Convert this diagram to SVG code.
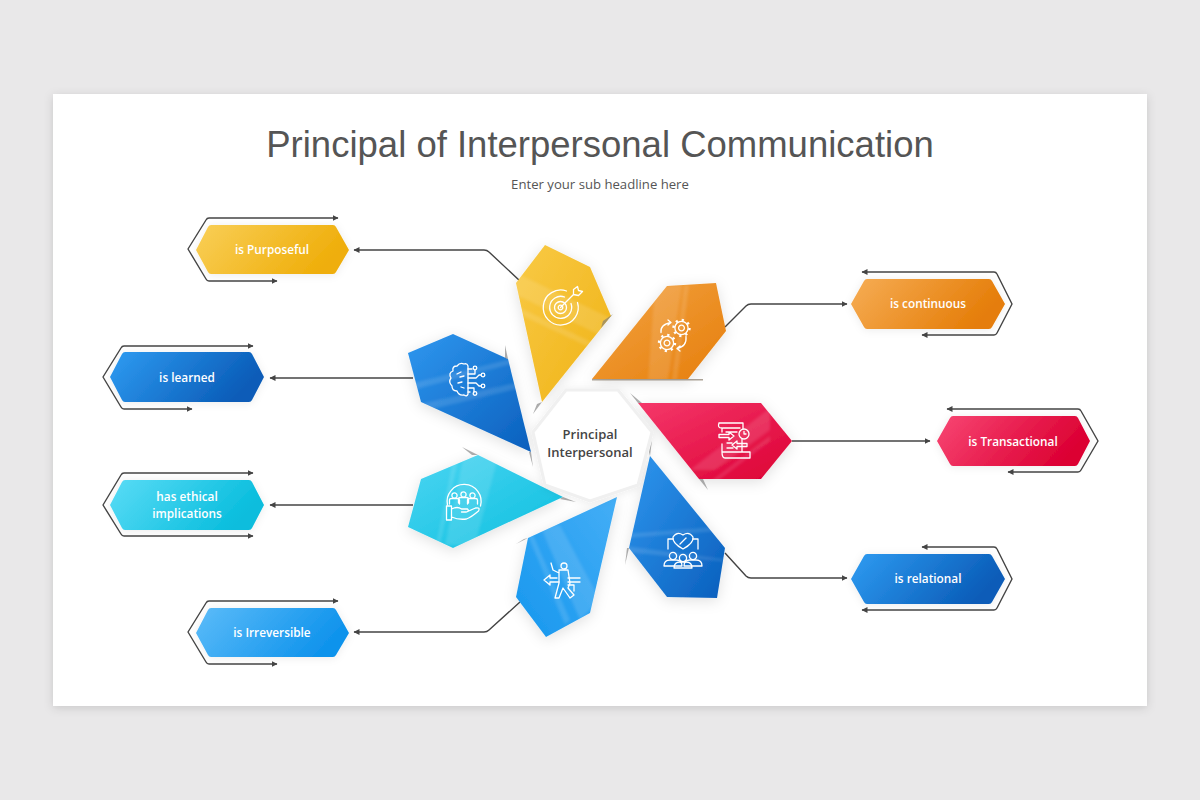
<svg xmlns="http://www.w3.org/2000/svg" xmlns:xlink="http://www.w3.org/1999/xlink" width="1200" height="800" viewBox="0 0 1200 800">
<style>
.t{font-family:"Liberation Sans",Arial,sans-serif;font-size:36.5px;fill:#555;text-anchor:middle}
.s{font-family:"Open Sans","Noto Sans",sans-serif;font-size:13.150px;fill:#555;text-anchor:middle}
.l{font-family:"Open Sans","Noto Sans",sans-serif;font-size:11.800px;font-weight:600;fill:#fff;text-anchor:middle}
.c{font-family:"Open Sans","Noto Sans",sans-serif;font-size:13px;font-weight:600;fill:#444;text-anchor:middle}
.a{fill:none;stroke:#444;stroke-width:1.4;marker-end:url(#ah);stroke-linejoin:round}
.i{fill:none;stroke:#fff;stroke-width:1.3;stroke-linecap:round;stroke-linejoin:round}
.h{fill:#fff;opacity:.12;filter:url(#b2)}
.f{fill:#777;opacity:.6;filter:url(#b1)}
.p{filter:url(#sh)}
.n{filter:url(#sl)}
</style>
<defs>
<marker id="ah" markerWidth="7" markerHeight="7" refX="5.5" refY="3" orient="auto" markerUnits="userSpaceOnUse"><path d="M0 0L6 3L0 6z" fill="#444"/></marker>
<filter id="card" x="-5%" y="-5%" width="110%" height="110%"><feDropShadow dx="0" dy="2" stdDeviation="5" flood-color="#000" flood-opacity=".14"/></filter>
<filter id="sh" x="-30%" y="-30%" width="160%" height="160%"><feDropShadow dx="0" dy="3" stdDeviation="7" flood-color="#000" flood-opacity=".12"/></filter>
<filter id="sl" x="-20%" y="-40%" width="140%" height="180%"><feDropShadow dx="0" dy="1" stdDeviation="4" flood-color="#000" flood-opacity=".08"/></filter>
<filter id="b1" x="-50%" y="-50%" width="200%" height="200%"><feGaussianBlur stdDeviation=".7"/></filter>
<filter id="b2" x="-30%" y="-30%" width="160%" height="160%"><feGaussianBlur stdDeviation="1.600"/></filter>
<linearGradient id="gY" x1="0" y1="0" x2="1" y2="1"><stop offset="0" stop-color="#f9ca45"/><stop offset="1" stop-color="#efb215"/></linearGradient>
<linearGradient id="gO" x1="0" y1="0" x2="1" y2="1"><stop offset="0" stop-color="#f3a443"/><stop offset="1" stop-color="#e67e0c"/></linearGradient>
<linearGradient id="gR" x1="0" y1="0" x2="1" y2="1"><stop offset="0" stop-color="#f5386a"/><stop offset="1" stop-color="#dc0034"/></linearGradient>
<linearGradient id="gD" x1="0" y1="0" x2="1" y2="1"><stop offset="0" stop-color="#2f97ef"/><stop offset="1" stop-color="#0a5fbd"/></linearGradient>
<linearGradient id="gS" x1="1" y1="0" x2="0" y2="1"><stop offset="0" stop-color="#44aef6"/><stop offset="1" stop-color="#1797ee"/></linearGradient>
<linearGradient id="gC" x1="0" y1="0" x2="1" y2="1"><stop offset="0" stop-color="#4bd5f2"/><stop offset="1" stop-color="#0cbfdf"/></linearGradient>
<linearGradient id="lY" x1="0" y1="0" x2="1" y2=".3"><stop offset="0" stop-color="#f9cf58"/><stop offset="1" stop-color="#efae0a"/></linearGradient>
<linearGradient id="lO" x1="0" y1="0" x2="1" y2=".3"><stop offset="0" stop-color="#f6ad55"/><stop offset="1" stop-color="#e57d08"/></linearGradient>
<linearGradient id="lR" x1="0" y1="0" x2="1" y2=".3"><stop offset="0" stop-color="#f84774"/><stop offset="1" stop-color="#dc0033"/></linearGradient>
<linearGradient id="lD" x1="0" y1="0" x2="1" y2=".3"><stop offset="0" stop-color="#2f9cf2"/><stop offset="1" stop-color="#0a5cb8"/></linearGradient>
<linearGradient id="lS" x1="0" y1="0" x2="1" y2=".3"><stop offset="0" stop-color="#5cbcf9"/><stop offset="1" stop-color="#0f93ec"/></linearGradient>
<linearGradient id="lC" x1="0" y1="0" x2="1" y2=".3"><stop offset="0" stop-color="#5adcf6"/><stop offset="1" stop-color="#08bddd"/></linearGradient>
<clipPath id="cY"><path d="M545 245L590 267L611 316L542 402L516 283z"/></clipPath>
<clipPath id="cO"><path d="M667 286L716 283L726 331L688 379L592 379z"/></clipPath>
<clipPath id="cR"><path d="M638 403L761 403L792 441L761 479L699 479z"/></clipPath>
<clipPath id="cD"><path d="M650 456L725 548L717 598L667 597L629 548z"/></clipPath>
<clipPath id="cS"><path d="M617 497L590 613L546 637L516 597L528 538z"/></clipPath>
<clipPath id="cC"><path d="M563 497L453 548L408 527L421 479L478 455z"/></clipPath>
<clipPath id="cB"><path d="M453 334L508 359L531 452L421 402L408 353z"/></clipPath>
<g id="gear"><circle r="6.6" class="i"/><circle r="2.9" class="i"/><circle r="8" fill="none" stroke="#fff" stroke-width="2.4" stroke-dasharray="2.2 4.08"/></g>
<g id="pers"><circle cx="0" cy="-4" r="3.6" class="i"/><path class="i" d="M-9 6Q-9 0 -3 0H3Q9 0 9 6z"/></g>
<g id="persm"><circle cx="0" cy="-3.500" r="2.600" class="i"/><path class="i" d="M-5 5V1Q-5 -.5 -3 -.5H3Q5 -.5 5 1V5"/></g>
</defs>

<rect width="1200" height="800" fill="#e9e8e9"/>
<rect x="53" y="94" width="1094" height="612" fill="#fff" filter="url(#card)"/>

<text class="t" x="600" y="156.500">Principal of Interpersonal Communication</text>
<text class="s" x="600" y="189">Enter your sub headline here</text>

<g id="connectors">
<path class="a" d="M520 281L489 252Q487 250 484 250L354 250"/>
<path class="a" d="M725 327L746 306Q748 304 751 304L847 304"/>
<path class="a" d="M792 441L930 441"/>
<path class="a" d="M725 553L746 576Q748 578 751 578L847 578"/>
<path class="a" d="M413 378L270 378"/>
<path class="a" d="M413 505L270 505"/>
<path class="a" d="M520 602L489 630Q487 632 484 632L354 632"/>
</g>

<g id="petal-purposeful">
<path class="p" fill="url(#gY)" d="M545 245L590 267L611 316L542 402L516 283z"/>
<g clip-path="url(#cY)"><path class="h" d="M510 270L625 325V347L510 292z"/><path class="h" d="M510 303L625 358V364L510 310z"/></g>
<path class="f" d="M613 314L601 328L603 321z"/><path class="f" d="M542 402L533 414L537 404z"/>
<g transform="translate(560.500 307.500)"><path class="i" d="M6 -16.500A17.500 17.500 0 1 0 17 -5"/><path class="i" d="M4 -10.500A11 11 0 1 0 10.500 -4"/><circle r="6" class="i"/><circle r="2.300" class="i"/><path class="i" d="M0 0L13 -13M13 -13L13 -18L17 -21L18 -17L22 -16L18 -12L13 -13"/></g>
</g>

<g id="petal-continuous">
<path class="p" fill="url(#gO)" d="M667 286L716 283L726 331L688 379L592 379z"/>
<g clip-path="url(#cO)"><path class="h" d="M655 285L682 285L668 380L648 380z"/><path class="h" d="M684 285L689 285L677 380L672 380z"/></g>
<path d="M592 379H703V380.500H592z" fill="#6b5a45" opacity=".55" filter="url(#b1)"/>
<g transform="translate(674 335.500)"><use xlink:href="#gear" href="#gear" x="7.500" y="-7.500"/><use xlink:href="#gear" href="#gear" x="-7" y="7.500"/><path class="i" d="M-13 -3Q-14 -11 -3 -13M-3 -13L-6 -15.500M-3 -13L-6 -10.500M12 1Q13 11 3 13M3 13L6 15.500M3 13L6 10.500"/></g>
</g>

<g id="petal-transactional">
<path class="p" fill="url(#gR)" d="M638 403L761 403L792 441L761 479L699 479z"/>
<g clip-path="url(#cR)"><path class="h" d="M770 408V430L715 470L690 470z"/><path class="h" d="M770 436V441L712 485L706 485z"/></g>
<path class="f" d="M630 393L638 403L642 403z"/><path class="f" d="M699 479L708 490L703 479z"/>
<g transform="translate(733 440)"><path class="i" d="M-14 -17H10V-11M-14 -17Q-16 -12 -11 -12V-8M-11 4V12M-10 -12H7M-7 -8H4M-6 3H-1M-6 8H0M-14 -5.500H-4V-8L1 -4L-4 0V-2.500H-14zM14 3.500H4V1L-1 5L4 9V6.500H14zM9 -1V12M-11 12H17V18H-8Q-11 18 -11 12"/><circle cx="11" cy="-6" r="5" class="i"/><path class="i" d="M11 -8.500V-6H13"/></g>
</g>

<g id="petal-relational">
<path class="p" fill="url(#gD)" d="M650 456L725 548L717 598L667 597L629 548z"/>
<g clip-path="url(#cD)"><path class="h" d="M625 534L730 526V530L625 538z"/><path class="h" d="M625 546L730 560V562L625 552z"/></g>
<path class="f" d="M652 440L650 456L649 452z"/><path class="f" d="M629 548L625 565L627 548z"/>
<g transform="translate(683 552)"><path class="i" d="M0 -3Q-11 -9 -10 -15Q-6 -21 0 -17Q6 -21 10 -15Q11 -9 0 -3z"/><path class="i" d="M-3 -8L3 -14"/><path class="i" d="M-15 -3V-13H-10M15 -3V-13H10"/><use xlink:href="#pers" href="#pers" x="-10" y="8"/><use xlink:href="#pers" href="#pers" x="10" y="8"/><use xlink:href="#pers" href="#pers" y="10"/></g>
</g>

<g id="petal-irreversible">
<path class="p" fill="url(#gS)" d="M617 497L590 613L546 637L516 597L528 538z"/>
<g clip-path="url(#cS)"><path class="h" d="M540 525L560 525L600 600L580 620z"/><path class="h" d="M528 535L533 535L570 620L565 625z"/></g>
<path class="f" d="M528 538L516 544L524 539z"/>
<g transform="translate(562 580)"><path class="i" d="M-18 0L-12 -5V-2H-5M-18 0L-12 5V2H-3M6 -2H18M6 2H18"/><circle cx="2" cy="-14" r="3" class="i"/><path class="i" d="M-3 -10H6L8 3L6 8L12 15L8 18L1 8L-3 18H-7L-3 3zM-3 -7L-9 -10L-11 -17M6 5H12V11"/></g>
</g>

<g id="petal-ethical">
<path class="p" fill="url(#gC)" d="M563 497L453 548L408 527L421 479L478 455z"/>
<g clip-path="url(#cC)"><path class="h" d="M465 450L500 450L475 545L445 545z"/><path class="h" d="M455 450L460 450L440 545L436 545z"/></g>
<path class="f" d="M478 455L462 447L472 455z"/><path class="f" d="M563 497L576 502L560 499z"/>
<g transform="translate(463.500 502)"><path class="i" d="M-16 3A17 17 0 1 1 17 4"/><use xlink:href="#persm" href="#persm" x="-9" y="-3"/><use xlink:href="#persm" href="#persm" x="0" y="-4"/><use xlink:href="#persm" href="#persm" x="9" y="-3"/><path class="i" d="M-17 4H-12V18H-17zM-12 7Q-6 4 -2 7H4Q6 9 3 10H-2M3 10L12 6Q17 5 15 9Q8 15 3 17Q-5 18 -12 15"/></g>
</g>

<g id="petal-learned">
<path class="p" fill="url(#gD)" d="M453 334L508 359L531 452L421 402L408 353z"/>
<g clip-path="url(#cB)"><path class="h" d="M405 385L515 358V363L405 392z"/><path class="h" d="M415 405L520 382V388L420 412z"/></g>
<path class="f" d="M508 359L505 345L505 358z"/><path class="f" d="M531 452L533 467L529 452z"/>
<g transform="translate(467 380)"><path class="i" d="M-3 -16Q-7 -18 -10 -14Q-15 -14 -14 -9Q-19 -7 -16 -2Q-19 2 -15 6Q-15 11 -10 11Q-8 16 -3 15Q0 17 1 14V-14Q0 -17 -3 -16z"/><path class="i" d="M-10 -6L-6 -8M-7 -3L-3 -4M-9 3L-5 2M-6 7L-3 8"/><path class="i" d="M1 -11H5M1 -6H8M8 -6L8 -10M1 -2H9L12 -5H14M1 3H9L12 6H14M1 8H7V12M1 12H3"/><circle cx="8" cy="-12" r="1.800" class="i"/><circle cx="16" cy="-5" r="1.800" class="i"/><circle cx="16" cy="6" r="1.800" class="i"/><circle cx="8" cy="13.500" r="1.800" class="i"/></g>
</g>

<g id="center">
<path d="M566 390H618L652 432L638 485L590 501L545 485L533 432z" fill="#fff" stroke="#f0f0f0" stroke-width="3" filter="url(#sl)"/>
<text class="c" x="590" y="439">Principal</text>
<text class="c" x="590" y="457">Interpersonal</text>
</g>

<g id="label-purposeful">
<path class="n" fill="url(#lY)" d="M196 250L208 227Q209 225 211 225H333Q335 225 336 227L349 250L336 272Q335 274 333 274H211Q209 274 208 272z"/>
<path class="a" d="M206 220Q207 218 209 218H338"/>
<path class="a" d="M206 220L188 249L206 279Q207 281 209 281H277"/>
<text class="l" x="272" y="254">is Purposeful</text>
</g>
<g id="label-learned">
<path class="n" fill="url(#lD)" d="M110 377L122 354Q123 352 125 352H249Q251 352 252 354L264 377L252 400Q251 402 249 402H125Q123 402 122 400z"/>
<path class="a" d="M121 348Q122 346 124 346H253"/>
<path class="a" d="M121 348L103 377L121 407Q122 409 124 409H192"/>
<text class="l" x="187" y="382">is learned</text>
</g>
<g id="label-ethical">
<path class="n" fill="url(#lC)" d="M110 505L122 482Q123 480 125 480H249Q251 480 252 482L264 505L252 528Q251 530 249 530H125Q123 530 122 528z"/>
<path class="a" d="M121 475Q122 473 124 473H253"/>
<path class="a" d="M121 475L103 505L121 534Q122 536 124 536H253"/>
<text class="l" x="187" y="501">has ethical</text>
<text class="l" x="187" y="518">implications</text>
</g>
<g id="label-irreversible">
<path class="n" fill="url(#lS)" d="M196 633L208 610Q209 608 211 608H333Q335 608 336 610L349 633L336 655Q335 657 333 657H211Q209 657 208 655z"/>
<path class="a" d="M206 603Q207 601 209 601H338"/>
<path class="a" d="M206 603L188 632L206 662Q207 664 209 664H277"/>
<text class="l" x="272" y="637">is Irreversible</text>
</g>
<g id="label-continuous">
<path class="n" fill="url(#lO)" d="M851 304L864 281Q865 279 867 279H989Q991 279 992 281L1005 304L992 327Q991 329 989 329H867Q865 329 864 327z"/>
<path class="a" d="M997 274Q996 272 994 272H862"/>
<path class="a" d="M997 274L1012 304L997 333Q996 335 994 335H922"/>
<text class="l" x="928" y="308">is continuous</text>
</g>
<g id="label-transactional">
<path class="n" fill="url(#lR)" d="M937 441L950 418Q951 416 953 416H1075Q1077 416 1078 418L1090 441L1078 464Q1077 466 1075 466H953Q951 466 950 464z"/>
<path class="a" d="M1081 411Q1080 409 1078 409H947"/>
<path class="a" d="M1081 411L1098 441L1081 470Q1080 472 1078 472H1008"/>
<text class="l" x="1013" y="446">is Transactional</text>
</g>
<g id="label-relational">
<path class="n" fill="url(#lD)" d="M851 579L864 556Q865 554 867 554H989Q991 554 992 556L1005 579L992 602Q991 604 989 604H867Q865 604 864 602z"/>
<path class="a" d="M997 549Q996 547 994 547H922"/>
<path class="a" d="M997 549L1012 579L997 608Q996 610 994 610H862"/>
<text class="l" x="928" y="583">is relational</text>
</g>
</svg>
